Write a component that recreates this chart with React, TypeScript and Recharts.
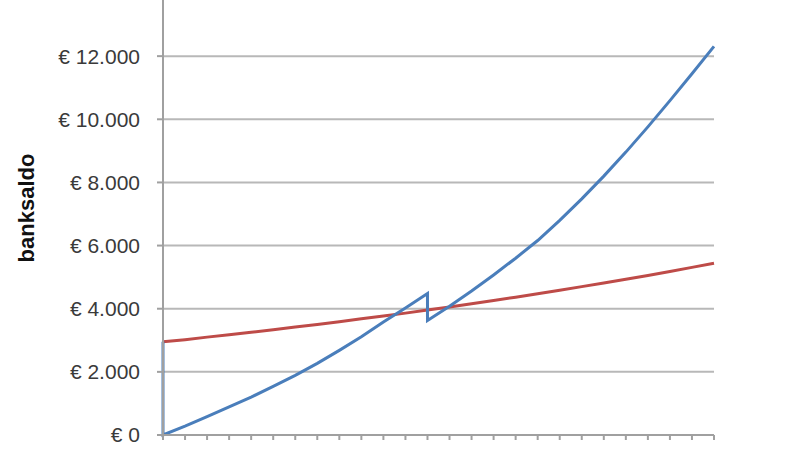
import { LineChart, Line, XAxis, YAxis, CartesianGrid, Label } from 'recharts';

// years 0..25
const years = [
  0, 1, 2, 3, 4, 5, 6, 7, 8, 9, 10, 11, 12, 13, 14, 15, 16, 17, 18, 19, 20, 21, 22, 23, 24, 25,
];

// red: spaarrekening
const redValues = [
  2950, 3020, 3100, 3175, 3255, 3335, 3420, 3500, 3590, 3680, 3770, 3860, 3960, 4055, 4160, 4260,
  4365, 4475, 4585, 4700, 4815, 4935, 5055, 5180, 5310, 5440,
];

// blue: first part (years 0..12), starts with a drop at year 0
const blueFirstX = [0, 0, 1, 2, 3, 4, 5, 6, 7, 8, 9, 10, 11, 12];
const blueFirst = [2950, 0, 280, 580, 890, 1200, 1540, 1890, 2270, 2680, 3110, 3580, 4020, 4480];

// blue: second part (years 12..25) after the drop
const blueSecondX = [12, 13, 14, 15, 16, 17, 18, 19, 20, 21, 22, 23, 24, 25];
const blueSecond = [3630, 4080, 4560, 5070, 5600, 6160, 6800, 7480, 8200, 8960, 9760, 10590, 11440, 12310];

const yTicks = [0, 2000, 4000, 6000, 8000, 10000, 12000, 14000];

const redData = years.map((x, i) => ({ x, y: redValues[i] }));
const blueData = [
  ...blueFirstX.map((x, i) => ({ x, y: blueFirst[i] })),
  ...blueSecondX.map((x, i) => ({ x, y: blueSecond[i] })),
];

const euro = (v: number) => {
  const s = String(v).replace(/\B(?=(\d{3})+(?!\d))/g, '.');
  return `€ ${s}`;
};

export default function App() {
  return (
    <div style={{ position: 'absolute', left: 0, top: -20, width: 800, height: 470, background: '#fff' }}>
      <LineChart
        width={800}
        height={470}
        margin={{ top: 13, right: 86, bottom: 0, left: 0 }}
        style={{ fontFamily: '"Liberation Sans", Arial, sans-serif' }}
      >
        <CartesianGrid vertical={false} stroke="#b8b8b8" strokeWidth={2} />
        <XAxis
          type="number"
          dataKey="x"
          domain={[0, 25]}
          ticks={years}
          interval={0}
          tickFormatter={() => ''}
          height={15}
          stroke="#a0a0a0"
          strokeWidth={2}
          tickSize={5}
          allowDuplicatedCategory
        />
        <YAxis
          type="number"
          dataKey="y"
          domain={[0, 14000]}
          ticks={yTicks}
          interval={0}
          width={163}
          tickFormatter={euro}
          tick={{ fill: '#3a3a3a', fontSize: 21 }}
          tickSize={6}
          tickMargin={17}
          stroke="#a0a0a0"
          strokeWidth={2}
        >
          <Label
            content={() => (
              <text
                x={26}
                y={228}
                transform="rotate(-90 26 228)"
                textAnchor="middle"
                dominantBaseline="central"
                fontSize={22}
                fontWeight="bold"
                fill="#111"
              >
                banksaldo
              </text>
            )}
          />
        </YAxis>
        <Line
          data={redData}
          dataKey="y"
          type="linear"
          stroke="#be4b48"
          strokeWidth={3}
          dot={false}
          isAnimationActive={false}
        />
        <Line
          data={blueData}
          dataKey="y"
          type="linear"
          stroke="#4a7ebb"
          strokeWidth={3}
          dot={false}
          isAnimationActive={false}
        />
      </LineChart>
    </div>
  );
}
